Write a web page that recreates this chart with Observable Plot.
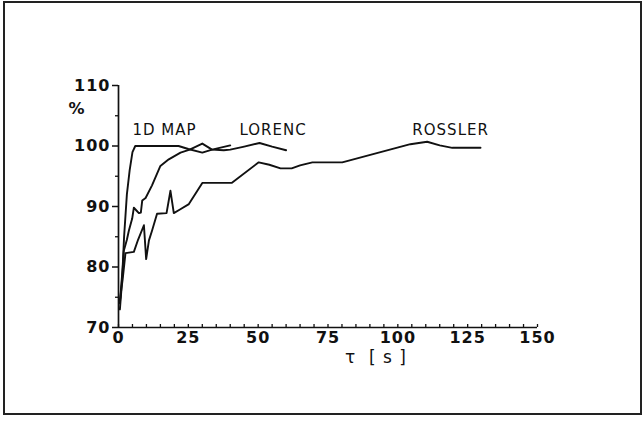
<!DOCTYPE html>
<html><head><meta charset="utf-8">
<script src="https://cdn.jsdelivr.net/npm/d3@7"></script>
<script src="https://cdn.jsdelivr.net/npm/@observablehq/plot@0.6"></script>
<style>
body{margin:0;background:#fff;}
#wrap{position:relative;width:643px;height:421px;}
#frame{position:absolute;left:3px;top:1px;width:639px;height:414px;border:2px solid #222;box-sizing:border-box;pointer-events:none}
svg text{letter-spacing:1px;}
</style></head><body><div id="wrap"><div id="frame"></div></div>
<script>
// 1D MAP series
const mapX = [0.5, 1.5, 2, 3, 4, 5, 6, 21.5, 25, 30, 33.5, 40];
const mapY = [74, 80, 85, 92, 96, 99, 100, 100, 99.5, 98.9, 99.4, 100.1];
// LORENC series
const lorX = [0.5, 1, 1.9, 3, 3.7, 4.9, 5.5, 6.5, 7.3, 8, 8.5, 9.7, 12, 15, 18, 22.2, 25.5, 30, 33.5, 37.7, 40, 45, 50.5, 55, 60];
const lorY = [73, 76, 82.7, 84.5, 86, 88, 89.8, 89.3, 88.9, 89, 91, 91.4, 93.5, 96.7, 97.8, 98.9, 99.4, 100.4, 99.4, 99.3, 99.4, 99.9, 100.5, 99.9, 99.3];
// ROSSLER series
const rosX = [0.5, 1.5, 2.5, 5.5, 7, 9.1, 9.9, 10.9, 12, 13.8, 17.2, 18.6, 19.8, 22, 25.2, 30, 40.5, 50.2, 54, 58, 62, 65, 69.4, 80.1, 104.5, 110.5, 115, 119.5, 129.6];
const rosY = [74.5, 78, 82.3, 82.5, 84.5, 86.9, 81.3, 84.4, 86, 88.8, 88.9, 92.6, 88.9, 89.5, 90.4, 93.9, 93.9, 97.3, 96.9, 96.3, 96.3, 96.8, 97.3, 97.3, 100.3, 100.7, 100.1, 99.7, 99.7];

// series labels
const labelNames = ["1D MAP", "LORENC", "ROSSLER"];
const labelX = [5, 43.3, 105.2];
const labelY = [102.6, 102.6, 102.6];

// ticks
const xMajor = [0, 25, 50, 75, 100, 125, 150];
const xMinor = d3.range(0, 151, 5);
const yMajor = [70, 80, 90, 100, 110];
const yMinor = [75, 85, 95, 105];
const xLabel = "τ  [ s ]";
const yLabel = "%";

const toRows = (xs, ys) => xs.map((x, i) => ({x, y: ys[i]}));
const series = [toRows(mapX, mapY), toRows(lorX, lorY), toRows(rosX, rosY)];
const labels = labelNames.map((name, i) => ({name, x: labelX[i], y: labelY[i]}));

const chart = Plot.plot({
  width: 643, height: 421,
  marginLeft: 118, marginRight: 106, marginTop: 85, marginBottom: 94,
  style: {fontFamily: "DejaVu Sans", fontSize: "16px", background: "transparent", color: "#111"},
  x: {domain: [0, 150]},
  y: {domain: [70, 110]},
  marks: [
    Plot.axisY({ticks: yMajor, tickSize: 6, tickPadding: 2, label: null, strokeWidth: 1.5, fontSize: 16, fontWeight: 600}),
    Plot.axisY({ticks: yMinor, tickSize: 3, tickFormat: () => "", label: null, strokeWidth: 1.3}),
    Plot.axisX({ticks: xMajor, tickSize: 0, tickPadding: 4, label: null, fontSize: 16, fontWeight: 600}),
    Plot.axisX({ticks: xMinor, tickSize: -3, tickFormat: () => "", label: null, strokeWidth: 1.3}),
    Plot.ruleX([0], {strokeWidth: 1.7}),
    Plot.ruleY([70], {strokeWidth: 1.7}),
    ...series.map(s => Plot.line(s, {x: "x", y: "y", stroke: "#111", strokeWidth: 1.9})),
    Plot.text(labels, {x: "x", y: "y", text: "name", textAnchor: "start", fontSize: 15, fill: "#111"}),
    Plot.text([yLabel], {frameAnchor: "top-left", dx: -50, dy: 17, fontSize: 16, fontWeight: "bold", fill: "#111"}),
    Plot.text([xLabel], {frameAnchor: "bottom", dx: 48, dy: 35, fontSize: 17, fill: "#111"})
  ]
});
document.getElementById("wrap").prepend(chart);
chart.style.position = "absolute";
chart.style.left = "0";
chart.style.top = "0";
</script>
</body></html>
